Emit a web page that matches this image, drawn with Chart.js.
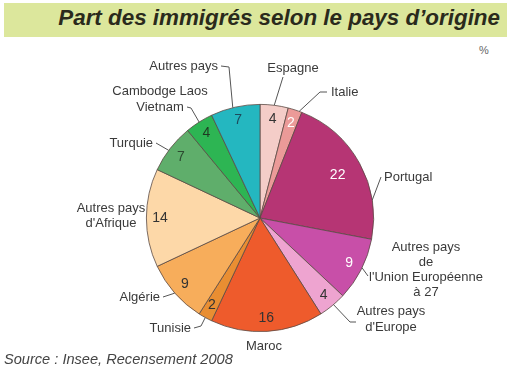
<!DOCTYPE html>
<html>
<head>
<meta charset="utf-8">
<script src="https://cdn.jsdelivr.net/npm/chart.js@4"></script>
<style>
  body { margin: 0; background: #fff; font-family: "Liberation Sans", Arial, sans-serif; }
  #wrap { position: relative; width: 519px; height: 374px; overflow: hidden; }
  #banner { position: absolute; left: 4px; top: 3px; width: 503px; height: 34px; background: #dce79c; }
  #title { position: absolute; right: 19px; top: 5px; font-size: 22.4px; font-weight: bold; font-style: italic; color: #2a2a1c; white-space: nowrap; }
  #pct { position: absolute; left: 479px; top: 44px; font-size: 11px; color: #666; }
  #source { position: absolute; left: 4px; top: 351px; font-size: 14.6px; font-style: italic; color: #444; white-space: nowrap; }
  canvas { position: absolute; left: 0; top: 0; }
</style>
</head>
<body>
<div id="wrap">
  <div id="banner"></div>
  <div id="title">Part des immigrés selon le pays d’origine</div>
  <div id="pct">%</div>
  <canvas id="myChart" width="519" height="374"></canvas>
  <div id="source">Source : Insee, Recensement 2008</div>
</div>
<script>
// data
var categories = ["Espagne", "Italie", "Portugal", "Autres pays de l'Union Européenne à 27",
  "Autres pays d'Europe", "Maroc", "Tunisie", "Algérie", "Autres pays d'Afrique",
  "Turquie", "Cambodge Laos Vietnam", "Autres pays"];
var values = [4, 2, 22, 9, 4, 16, 2, 9, 14, 7, 4, 7];

var colors = ["#f4cdc8", "#eb9a98", "#b63574", "#c84fa8", "#eea4d0", "#ee5b2c",
  "#e98e32", "#f7ad5b", "#fdd8a8", "#5fae6b", "#2db553", "#24b7c0"];
var valueColors = ["#333", "#fff", "#fff", "#fff", "#333", "#333",
  "#333", "#333", "#333", "#2c4a30", "#1f3a22", "#1d4a5c"];

// label layout: text lines, anchor, leader line (start = fraction along the slice edge)
var labelLayout = [
  { text: ["Espagne"], x: 293, y: 68, align: "center", at: 0.5, path: [[283, 77]] },
  { text: ["Italie"], x: 331, y: 92, align: "left", at: 0.8, path: [[320, 92], [327, 92]] },
  { text: ["Portugal"], x: 384, y: 177, align: "left", at: 0.75, path: [[381, 177]], r: 0.78 },
  { text: ["Autres pays", "de", "l'Union Européenne", "à 27"], x: 426, y: 247, lh: 15, align: "center", at: 0.47, path: [[368, 276]] },
  { text: ["Autres pays", "d'Europe"], x: 391, y: 311, lh: 16, align: "center", at: 0.45, path: [[350, 322], [356, 322]] },
  { text: ["Maroc"], x: 264, y: 346, align: "center" },
  { text: ["Tunisie"], x: 191, y: 328, align: "right", at: 0.5, path: [[201, 326], [194, 328]] },
  { text: ["Algérie"], x: 160, y: 297, align: "right", at: 0.5, path: [[163, 297]] },
  { text: ["Autres pays", "d'Afrique"], x: 111, y: 208, lh: 15, align: "center" },
  { text: ["Turquie"], x: 153, y: 143, align: "right", at: 0.45, path: [[156, 143]] },
  { text: ["Cambodge Laos", "Vietnam"], x: 160, y: 91, lh: 16, align: "center", at: 0.5, path: [[191, 108], [187, 107]] },
  { text: ["Autres pays"], x: 218, y: 66, align: "right", at: 0.45, path: [[229, 67], [221, 66]] }
];

var labelPlugin = {
  id: "pieLabels",
  afterDatasetsDraw: function (chart) {
    var c = chart.ctx;
    var meta = chart.getDatasetMeta(0);
    c.save();
    meta.data.forEach(function (arc, i) {
      var p = arc.getProps(["x", "y", "startAngle", "endAngle", "outerRadius"], true);
      var L = labelLayout[i];
      var mid = (p.startAngle + p.endAngle) / 2;

      // value inside the slice
      var vr = p.outerRadius * (L.r || 0.88);
      c.font = "14px 'Liberation Sans', Arial, sans-serif";
      c.fillStyle = valueColors[i];
      c.textAlign = "center";
      c.textBaseline = "middle";
      c.fillText(values[i], p.x + Math.cos(mid) * vr, p.y + Math.sin(mid) * vr);

      // leader line
      if (L.path) {
        var a = p.startAngle + (p.endAngle - p.startAngle) * L.at;
        c.beginPath();
        c.moveTo(p.x + Math.cos(a) * p.outerRadius, p.y + Math.sin(a) * p.outerRadius);
        L.path.forEach(function (pt) { c.lineTo(pt[0], pt[1]); });
        c.strokeStyle = "#555";
        c.lineWidth = 1;
        c.stroke();
      }

      // outer label
      c.font = "13px 'Liberation Sans', Arial, sans-serif";
      c.fillStyle = "#3a3a3a";
      c.textAlign = L.align;
      var lh = L.lh || 15;
      L.text.forEach(function (t, k) {
        c.fillText(t, L.x, L.y + k * lh);
      });
    });
    c.restore();
  }
};

var ctx = document.getElementById("myChart");

var chart = new Chart(ctx, {
  type: "pie",
  data: {
    labels: categories,
    datasets: [{
      data: values,
      backgroundColor: colors,
      borderColor: "#5a4a44",
      borderWidth: 0.8
    }]
  },
  options: {
    responsive: false,
    animation: false,
    layout: { padding: { left: 146, right: 145, top: 104, bottom: 42 } },
    plugins: {
      legend: { display: false },
      tooltip: { enabled: false }
    }
  },
  plugins: [labelPlugin]
});
</script>
</body>
</html>
